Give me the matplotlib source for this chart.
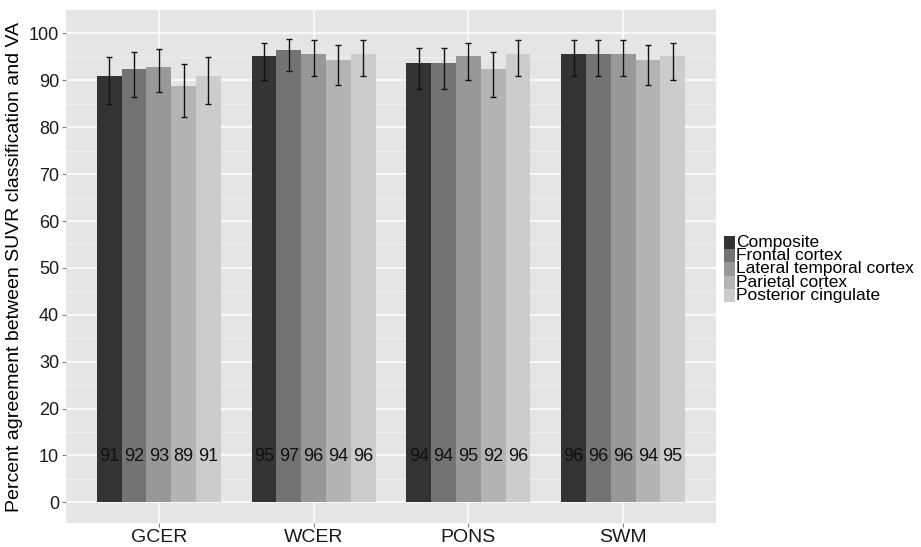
import matplotlib.pyplot as plt
import numpy as np
from matplotlib.patches import Rectangle

plt.rcParams['font.family'] = ['Liberation Sans', 'DejaVu Sans']

# reference regions on the x axis, cortical target regions as bars
refs = ['GCER', 'WCER', 'PONS', 'SWM']
regions = ['Composite', 'Frontal cortex', 'Lateral temporal cortex',
           'Parietal cortex', 'Posterior cingulate']
fills = ['#333333', '#737373', '#989898', '#b4b4b4', '#cccccc']

# agreement (%) per region, one list per reference
agree = [
    [90.9, 92.4, 92.9, 88.8, 90.9],   # GCER
    [95.1, 96.4, 95.7, 94.4, 95.7],   # WCER
    [93.7, 93.7, 95.1, 92.4, 95.7],   # PONS
    [95.7, 95.7, 95.7, 94.4, 95.1],   # SWM
]
err_lo = [
    [84.9, 86.5, 87.5, 82.2, 84.9],
    [90.0, 91.9, 91.0, 89.1, 91.0],
    [88.1, 88.1, 90.0, 86.5, 91.0],
    [91.0, 91.0, 91.0, 89.1, 90.0],
]
err_hi = [
    [95.0, 96.1, 96.6, 93.5, 95.0],
    [97.9, 98.8, 98.5, 97.6, 98.5],
    [96.9, 96.9, 97.9, 96.1, 98.5],
    [98.5, 98.5, 98.5, 97.6, 97.9],
]
labels = [
    [91, 92, 93, 89, 91],
    [95, 97, 96, 94, 96],
    [94, 94, 95, 92, 96],
    [96, 96, 96, 94, 95],
]

fig = plt.figure(figsize=(9.21, 5.47), dpi=100)
ax = fig.add_axes([66/921, 1-523/547, 650/921, 513/547])
ax.set_facecolor('#e5e5e5')

x = np.arange(1, len(refs)+1)
w = 0.8/len(regions)
for j in range(len(regions)):
    xs = x - 0.4 + w*(j+0.5)
    vals = [agree[i][j] for i in range(len(refs))]
    lo = [agree[i][j]-err_lo[i][j] for i in range(len(refs))]
    hi = [err_hi[i][j]-agree[i][j] for i in range(len(refs))]
    ax.bar(xs, vals, width=w, color=fills[j], zorder=3)
    ax.errorbar(xs, vals, yerr=[lo, hi], fmt='none', ecolor='#111111',
                elinewidth=1, capsize=2.5, capthick=1, zorder=4)
    for i in range(len(refs)):
        ax.text(xs[i], 9.7, str(labels[i][j]), ha='center', va='center',
                fontsize=13, color='#111111', zorder=5)

ax.set_xlim(0.4, 4.6)
ax.set_ylim(-4.4, 105)
ax.set_yticks(np.arange(0, 101, 10))
ax.set_yticks(np.arange(5, 100, 10), minor=True)
ax.set_xticks(x)
ax.set_xticklabels(refs, fontsize=14)
ax.tick_params(axis='y', labelsize=13, colors='#7f7f7f', length=3, pad=2, labelcolor='#1a1a1a')
ax.tick_params(axis='x', colors='#7f7f7f', length=3, pad=1, labelcolor='#1a1a1a')
ax.tick_params(which='minor', length=0)
ax.grid(which='major', color='white', linewidth=1.1, zorder=0)
ax.grid(which='minor', color='#f2f2f2', linewidth=0.6, zorder=0)
ax.set_axisbelow(True)
for s in ax.spines.values():
    s.set_visible(False)
ax.set_ylabel('Percent agreement between SUVR classification and VA', fontsize=14, labelpad=4)

# legend drawn by hand so rows sit tightly like the original
row = 13.2
for j, name in enumerate(regions):
    top = 236 + row*j
    fig.add_artist(Rectangle((724/921, 1-(top+row)/547), 11/921, row/547,
                             transform=fig.transFigure, color=fills[j], lw=0))
    fig.text(736/921, 1-(top+row/2)/547, name, fontsize=12.5, va='center', ha='left')

fig.savefig('out.png', dpi=100)
